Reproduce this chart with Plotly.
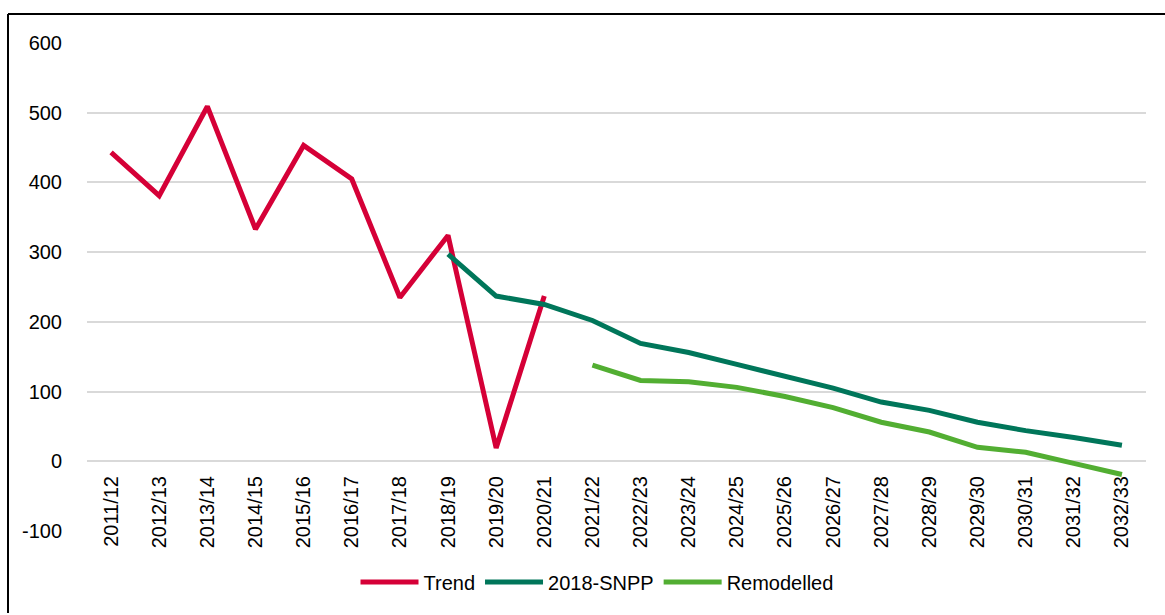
import plotly.graph_objects as go

categories = ["2011/12", "2012/13", "2013/14", "2014/15", "2015/16", "2016/17",
              "2017/18", "2018/19", "2019/20", "2020/21", "2021/22", "2022/23",
              "2023/24", "2024/25", "2025/26", "2026/27", "2027/28", "2028/29",
              "2029/30", "2030/31", "2031/32", "2032/33"]

trend = [443, 381, 509, 333, 453, 405, 235, 324, 19, 237,
         None, None, None, None, None, None, None, None, None, None, None, None]
snpp = [None, None, None, None, None, None, None, 297, 237, 225,
        202, 169, 156, 139, 122, 105, 85, 73, 56, 44, 34, 23]
remodelled = [None, None, None, None, None, None, None, None, None, None,
              138, 116, 114, 106, 93, 77, 56, 42, 20, 13, -3, -19]

y_ticks = [-100, 0, 100, 200, 300, 400, 500, 600]
y_tick_labels = ["-100", "0", "100", "200", "300", "400", "500", "600"]

FONT = "Liberation Sans, Arial, sans-serif"
FS = 20

fig = go.Figure()
fig.add_trace(go.Scatter(x=categories, y=trend, name="Trend", mode="lines",
                         line=dict(color="#D50037", width=5)))
fig.add_trace(go.Scatter(x=categories, y=snpp, name="2018-SNPP", mode="lines",
                         line=dict(color="#00765A", width=5)))
fig.add_trace(go.Scatter(x=categories, y=remodelled, name="Remodelled", mode="lines",
                         line=dict(color="#52AE32", width=5)))

L, R, T, B = 87, 19, 43, 84
W, H = 1165, 615
pw, ph = W - L - R, H - T - B

def px_x(p):
    return (p - L) / pw

def px_y(p):
    return (H - B - p) / ph

fig.update_layout(
    width=W, height=H,
    margin=dict(l=L, r=R, t=T, b=B, autoexpand=False),
    paper_bgcolor="white", plot_bgcolor="white",
    font=dict(family=FONT, size=FS, color="#000000"),
    showlegend=True,
    legend=dict(orientation="h", x=px_x(597), xanchor="center", y=px_y(582), yanchor="middle",
                font=dict(family=FONT, size=FS), bgcolor="rgba(0,0,0,0)",
                tracegroupgap=0, itemwidth=58),
    xaxis=dict(type="category", categoryorder="array", categoryarray=categories,
               range=[-0.5, len(categories) - 0.5], tickangle=-90,
               anchor="free", position=px_y(461),
               showgrid=False, zeroline=False, showline=False, ticks="",
               ticklabelstandoff=10, automargin=False,
               tickfont=dict(family=FONT, size=FS)),
    yaxis=dict(range=[-100, 600], tickvals=y_ticks, ticktext=y_tick_labels, showgrid=True,
               gridcolor="#D9D9D9", gridwidth=2, zeroline=False, showline=False,
               ticks="", automargin=False, tickfont=dict(family=FONT, size=FS),
               ticklabelstandoff=24),
    shapes=[
        dict(type="line", xref="paper", yref="paper", x0=px_x(8), x1=px_x(1170),
             y0=px_y(14), y1=px_y(14), line=dict(color="black", width=2)),
        dict(type="line", xref="paper", yref="paper", x0=px_x(8), x1=px_x(8),
             y0=px_y(14), y1=px_y(613), line=dict(color="black", width=2)),
    ],
)

fig.write_html("out.html", config={"displayModeBar": False},
               post_script="document.body.style.margin='0';")
